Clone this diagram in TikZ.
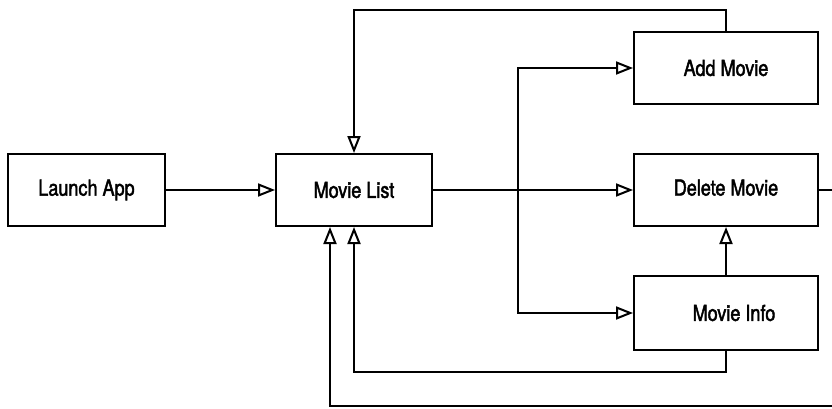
\documentclass[tikz,border=0pt]{standalone}
\usepackage{fontspec}
\setmainfont{TeX Gyre Heros}[FakeStretch=0.82,FakeBold=2]
\usetikzlibrary{arrows.meta,calc}
\begin{document}
\begin{tikzpicture}[x=1pt,y=-1pt,
  box/.style={draw,line width=2pt,inner sep=0pt,font=\fontsize{22}{24}\selectfont},
  arr/.style={line width=2pt,-{Triangle[open,length=17pt,width=13pt,line width=2pt]}}]
\clip (0,0) rectangle (832,409);
\node[box,minimum width=157pt,minimum height=72pt] (launch) at (86.5,190) {Launch App};
\node[box,minimum width=156pt,minimum height=72pt] (list) at (354,190) {Movie List};
\node[box,minimum width=184pt,minimum height=72pt] (add) at (726,68) {Add Movie};
\node[box,minimum width=184pt,minimum height=72pt] (del) at (726,190) {\raisebox{5pt}{Delete Movie}};
\node[box,minimum width=184pt,minimum height=74pt] (info) at (726,313) {\hspace*{16pt}Movie Info};
\coordinate (br) at (518,190);
\coordinate (t1) at (354,10);
\coordinate (b1) at (354,372);
\coordinate (r1) at (845,406);
\coordinate (b2) at (330,406);
\draw[arr] (launch) -- (list);
\draw[arr] (list) -- (del);
\draw[arr] (br) |- (add.west);
\draw[arr] (br) |- (info.west);
\draw[arr] (add.north) |- (t1) -- (list.north);
\draw[arr] (info.north) -- (del.south);
\draw[arr] (info.south) |- (b1) -- (list.south);
\draw[arr] (del.east) -| (r1) -- (b2) -- (list.south -| b2);
\end{tikzpicture}
\end{document}
